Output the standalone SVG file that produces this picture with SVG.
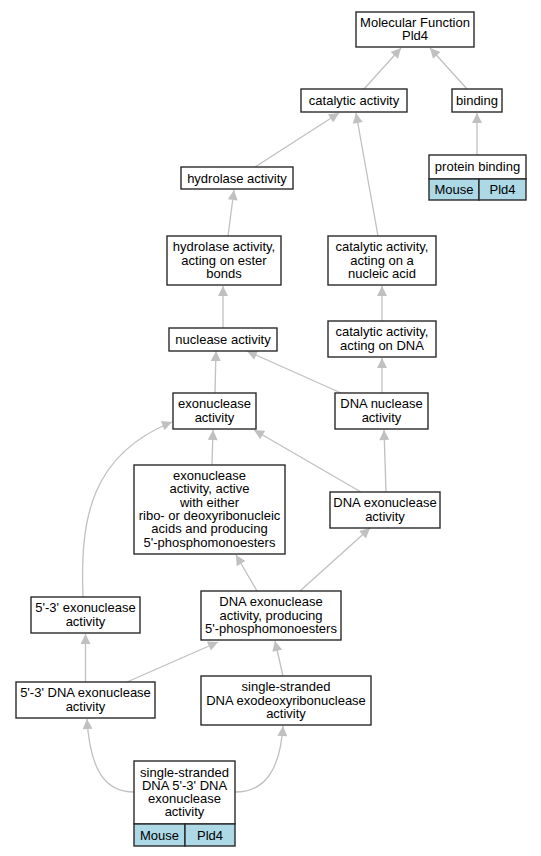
<svg xmlns="http://www.w3.org/2000/svg" width="541" height="856" viewBox="0 0 541 856">
<style>
.n rect{fill:#fff;stroke:#2a2a2a;stroke-width:1.4}
.n rect.c{fill:#add8e6}
text{font-family:"Liberation Sans",Arial,sans-serif;font-size:13px;fill:#000;text-anchor:middle}
#edges path{fill:none;stroke:#c0c0c0;stroke-width:1.3;marker-end:url(#ah)}
</style>
<defs>
<marker id="ah" viewBox="0 0 10 10" refX="10" refY="5" markerUnits="userSpaceOnUse" markerWidth="13" markerHeight="10" orient="auto">
<path d="M0,0 L10,5 L0,10 z" fill="#c0c0c0"/>
</marker>
</defs>
<rect width="541" height="856" fill="#fff"/>
<g id="edges">
<path d="M364,89 L401,48"/>
<path d="M467,89 L430,48"/>
<path d="M477,155 L477,113"/>
<path d="M255,167 L339,113"/>
<path d="M378,236 L356,113"/>
<path d="M228,236 L234,190"/>
<path d="M223,328 L223,286"/>
<path d="M382,321 L382,286"/>
<path d="M341,393 L247,351"/>
<path d="M382,393 L382,358"/>
<path d="M215,393 L216,351"/>
<path d="M212,465 L213,430"/>
<path d="M361,492 L254,430"/>
<path d="M386,492 L384,430"/>
<path d="M83,597 C80,520 90,455 172,422"/>
<path d="M257,591 L236,555"/>
<path d="M300,591 L370,528"/>
<path d="M85.5,682 L85.5,634"/>
<path d="M127,682 L218,642"/>
<path d="M283,676 L275,641"/>
<path d="M134,792 C105,792 90,770 87,719"/>
<path d="M235,792 C265,792 280,770 283,726"/>
</g>
<g id="mf" class="n"><rect x="356" y="12" width="118" height="35"/><text x="415" y="26.8">Molecular Function</text><text x="415" y="40.1">Pld4</text></g>
<g id="catalytic" class="n"><rect x="301" y="89" width="106" height="23"/><text x="354" y="105">catalytic activity</text></g>
<g id="binding" class="n"><rect x="452" y="89" width="50" height="23"/><text x="477" y="105">binding</text></g>
<g id="protein-binding" class="n"><rect x="429" y="155" width="97" height="24"/><rect class="c" x="429" y="179" width="50" height="21"/><rect class="c" x="479" y="179" width="47" height="21"/><text x="477.5" y="171">protein binding</text><text x="454" y="194">Mouse</text><text x="502.5" y="194">Pld4</text></g>
<g id="hydrolase" class="n"><rect x="181" y="167" width="112" height="22"/><text x="237" y="182.5">hydrolase activity</text></g>
<g id="hydrolase-ester" class="n"><rect x="167" y="236" width="114" height="49"/><text x="224" y="251.2">hydrolase activity,</text><text x="224" y="264.5">acting on ester</text><text x="224" y="277.8">bonds</text></g>
<g id="cat-nucleic" class="n"><rect x="328" y="236" width="108" height="49"/><text x="382" y="251.2">catalytic activity,</text><text x="382" y="264.5">acting on a</text><text x="382" y="277.8">nucleic acid</text></g>
<g id="nuclease" class="n"><rect x="169" y="328" width="108" height="23"/><text x="223" y="343.5">nuclease activity</text></g>
<g id="cat-dna" class="n"><rect x="328" y="321" width="108" height="36"/><text x="382" y="336.3">catalytic activity,</text><text x="382" y="349.6">acting on DNA</text></g>
<g id="exonuclease" class="n"><rect x="173" y="393" width="83" height="36"/><text x="214.5" y="408.3">exonuclease</text><text x="214.5" y="421.6">activity</text></g>
<g id="dna-nuclease" class="n"><rect x="335" y="393" width="93" height="36"/><text x="381.5" y="408.3">DNA nuclease</text><text x="381.5" y="421.6">activity</text></g>
<g id="exo-either" class="n"><rect x="134" y="465" width="151" height="89"/><text x="209.5" y="480">exonuclease</text><text x="209.5" y="493.3">activity, active</text><text x="209.5" y="506.6">with either</text><text x="209.5" y="519.9">ribo- or deoxyribonucleic</text><text x="209.5" y="533.2">acids and producing</text><text x="209.5" y="546.5">5'-phosphomonoesters</text></g>
<g id="dna-exo" class="n"><rect x="330" y="492" width="110" height="36"/><text x="385" y="507.3">DNA exonuclease</text><text x="385" y="520.6">activity</text></g>
<g id="exo-53" class="n"><rect x="31" y="597" width="109" height="36"/><text x="85.5" y="612.3">5'-3' exonuclease</text><text x="85.5" y="625.6">activity</text></g>
<g id="dna-exo-producing" class="n"><rect x="201" y="591" width="140" height="49"/><text x="271" y="606.2">DNA exonuclease</text><text x="271" y="619.5">activity, producing</text><text x="271" y="632.8">5'-phosphomonoesters</text></g>
<g id="dna-exo-53" class="n"><rect x="16" y="682" width="139" height="36"/><text x="85.5" y="697.3">5'-3' DNA exonuclease</text><text x="85.5" y="710.6">activity</text></g>
<g id="ss-exodeoxy" class="n"><rect x="201" y="676" width="170" height="49"/><text x="286" y="691.2">single-stranded</text><text x="286" y="704.5">DNA exodeoxyribonuclease</text><text x="286" y="717.8">activity</text></g>
<g id="ss-53" class="n"><rect x="134" y="761" width="101" height="63"/><rect class="c" x="134" y="824" width="51" height="22"/><rect class="c" x="185" y="824" width="50" height="22"/><text x="184.5" y="776.5">single-stranded</text><text x="184.5" y="789.8">DNA 5'-3' DNA</text><text x="184.5" y="803.1">exonuclease</text><text x="184.5" y="816.4">activity</text><text x="159.5" y="839.5">Mouse</text><text x="210" y="839.5">Pld4</text></g>
</svg>
